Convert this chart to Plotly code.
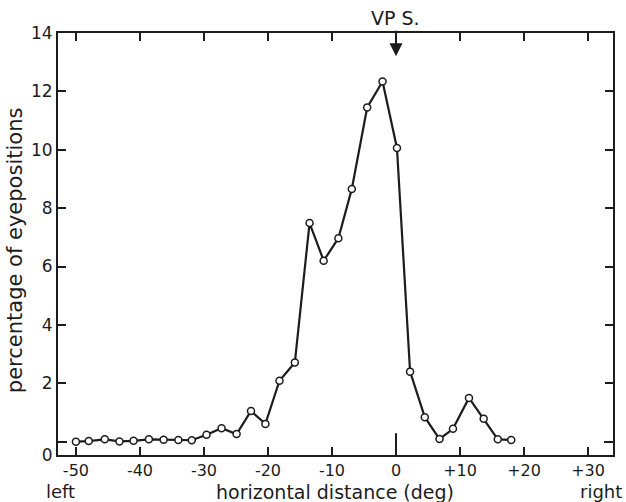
import plotly.graph_objects as go

# Data
x_deg = [-50.0, -48.0, -45.5, -43.2, -41.0, -38.6, -36.3, -34.0, -31.9, -29.6,
         -27.25, -24.9, -22.65, -20.4, -18.2, -15.8, -13.5, -11.3, -9.0, -6.9,
         -4.5, -2.1, 0.15, 2.2, 4.5, 6.8, 8.9, 11.4, 13.7, 15.9, 18.0]
pct = [0.0, 0.02, 0.08, 0.01, 0.03, 0.08, 0.07, 0.06, 0.05, 0.24,
       0.46, 0.26, 1.05, 0.61, 2.09, 2.71, 7.49, 6.20, 6.97, 8.66,
       11.45, 12.34, 10.06, 2.40, 0.84, 0.09, 0.44, 1.50, 0.79, 0.08, 0.06]

x_tick_vals = [-50, -40, -30, -20, -10, 0, 10, 20, 30]
x_tick_text = ["-50", "-40", "-30", "-20", "-10", "0", "+10", "+20", "+30"]

Y_BOTTOM = -0.456
y_tick_vals = [Y_BOTTOM, 2, 4, 6, 8, 10, 12, 14]
y_tick_text = ["0", "2", "4", "6", "8", "10", "12", "14"]

INK = "#1c1c1c"
FONT = "DejaVu Sans"

fig = go.Figure()
fig.add_trace(go.Scatter(
    x=x_deg, y=pct, mode="lines+markers",
    line=dict(color=INK, width=2.2),
    marker=dict(symbol="circle", size=7, color="white", line=dict(color=INK, width=1.5)),
    showlegend=False, hoverinfo="skip"))

axis_common = dict(showgrid=False, zeroline=False, showline=True, linewidth=2,
                   linecolor=INK, mirror="ticks", ticks="inside", ticklen=8,
                   tickwidth=2, tickcolor=INK)

fig.update_xaxes(range=[-52.8, 33.9], tickmode="array", tickvals=x_tick_vals,
                 ticktext=x_tick_text, ticklabelstandoff=0,
                 tickfont=dict(family=FONT, size=16, color=INK), **axis_common)
fig.update_yaxes(range=[Y_BOTTOM, 14.0], tickmode="array", tickvals=y_tick_vals,
                 ticktext=y_tick_text,
                 tickfont=dict(family=FONT, size=17, color=INK),
                 minor=dict(tickmode="array", tickvals=[0], ticks="inside",
                            ticklen=9, tickwidth=2, tickcolor=INK),
                 **axis_common)

# long centre tick on bottom axis
fig.add_shape(type="line", xref="x", yref="y", x0=0, x1=0, y0=Y_BOTTOM, y1=0.29,
              line=dict(color=INK, width=2))

fig.add_annotation(x=0, y=13.2, xref="x", yref="y", text="VP S.",
                   showarrow=True, ax=0, ay=-38, arrowhead=2, arrowsize=1.3,
                   arrowwidth=2, arrowcolor=INK,
                   font=dict(family=FONT, size=19, color=INK))

# bottom row of texts, kept inside the canvas
ROW_Y = -0.0865
fig.add_annotation(x=-0.025, y=ROW_Y, xref="paper", yref="paper", text="left",
                   showarrow=False, xanchor="left", yanchor="middle",
                   font=dict(family=FONT, size=18, color=INK))
fig.add_annotation(x=1.02, y=ROW_Y, xref="paper", yref="paper", text="right",
                   showarrow=False, xanchor="right", yanchor="middle",
                   font=dict(family=FONT, size=18, color=INK))
fig.add_annotation(x=0.499, y=ROW_Y, xref="paper", yref="paper",
                   text="horizontal distance (deg)",
                   showarrow=False, xanchor="center", yanchor="middle",
                   font=dict(family=FONT, size=19, color=INK))
fig.add_annotation(x=-0.076, y=0.485, xref="paper", yref="paper",
                   text="percentage of eyepositions", textangle=-90,
                   showarrow=False, xanchor="center", yanchor="middle",
                   font=dict(family=FONT, size=21, color=INK))

fig.update_layout(width=626, height=502, margin=dict(l=58, r=13, t=33, b=47),
                  paper_bgcolor="white", plot_bgcolor="white")

fig.write_html("out.html")
